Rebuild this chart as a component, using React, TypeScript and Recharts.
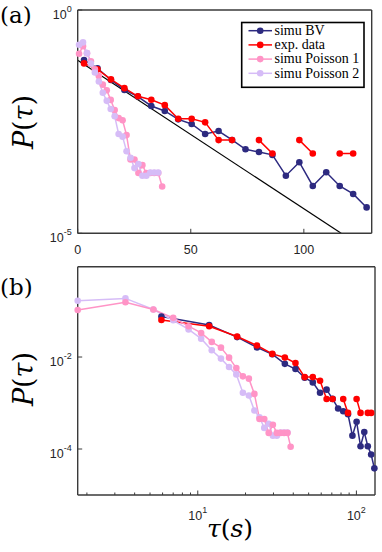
import React from 'react';
import { LineChart, Line, XAxis, YAxis } from 'recharts';

// ---------- data ----------
const seriesNames = ['simu BV', 'exp. data', 'simu Poisson 1', 'simu Poisson 2'];

// panel (a): linear tau; panel (b): log tau
const tauBVLin = [2.8, 8.75, 14.7, 20.65, 26.6, 32.55, 38.5, 44.45, 50.4, 56.35, 62.3, 68.25, 74.2, 80.15, 86.1, 92.05, 98, 103.95, 109.9, 115.85, 121.8, 127.75];
const tauBVLog = [5.9, 11.8, 17.7, 23.6, 29.5, 35.4, 41.3, 47.2, 53.1, 59, 64.9, 70.8, 76.7, 82.6, 88.5, 94.4, 100.3, 106.2, 112.1, 118, 123.9, 129.8];
const pBV = [0.076, 0.0495, 0.0271, 0.0162, 0.0115, 0.0071, 0.00548, 0.00356, 0.00281, 0.00167, 0.00195, 0.00123, 0.00076, 0.00066, 0.00057, 0.000195, 0.00039, 0.000115, 0.000233, 0.000115, 0.000076, 0.000038];
const pExp = [0.0638, 0.0468, 0.0279, 0.0178, 0.0117, 0.00977, 0.00741, 0.00366, 0.00366, 0.00305, 0.00122, 0.00122, null, 0.00122, 0.00061, null, 0.00122, 0.00061, null, 0.00061, 0.00061, null];

const tauPoisLin = [0.6, 2.35, 4.1, 5.85, 7.6, 9.35, 11.1, 12.85, 14.6, 16.35, 18.1, 19.85, 21.6, 23.35, 25.1, 26.85, 28.6, 30.35, 32.1, 33.85, 35.6, 37.35];
const tauPoisLog = [1.75, 3.5, 5.25, 7, 8.75, 10.5, 12.25, 14, 15.75, 17.5, 19.25, 21, 22.75, 24.5, 26.25, 28, 29.75, 31.5, 33.25, 35, 36.75, 38.5];
const pPois1 = [0.105, 0.155, 0.108, 0.0711, 0.0468, 0.0334, 0.0213, 0.016, 0.0097, 0.00575, 0.0038, 0.00339, 0.00158, 0.000448, 0.000448, 0.000224, 0.000336, 0.000224, 0.000224, 0.000224, 0.000224, 0.000112];
const pPois2 = [0.167, 0.188, 0.108, 0.063, 0.0398, 0.0251, 0.014, 0.00923, 0.00605, 0.00419, 0.00167, 0.00146, 0.000686, 0.00049, 0.000288, 0.000355, 0.000195, 0.000195, 0.000229, 0.000229, 0.000229];

const fitTau = [0, 116.5];
const fitP = [0.075, 0.00001];

// ticks
const topXTicks = [0, 50, 100];
const topYTicks = [0.00001, 1];
const botXTicks = [2, 3, 4, 5, 6, 7, 8, 9, 10, 20, 30, 40, 50, 60, 70, 80, 90, 100];
const botXMajor = [10, 100];
const botYTicks = [0.0001, 0.01];

// ---------- styles ----------
const COLORS = ['#2d2a80', '#ff0000', '#ff94c6', '#d6bcf7'];
const AXIS = '#3a3a3a';
const TFONT = '"Liberation Sans", Arial, sans-serif';
const W = 382;
const H = 552;
const YW = 40; // left axis width
const XH = 30; // bottom axis height
const TH = 10; // top axis height
const RW = 5; // right axis width

const rows = (ts: number[], ps: (number | null)[]) => ps.map((p, i) => ({ t: ts[i], p }));

const Sup = ({ v }: { v: number }) => (
  <>
    <tspan>10</tspan>
    <tspan dy={-7} fontSize={9}>{String(Math.round(Math.log10(v)))}</tspan>
  </>
);

const BottomTick = (props: any) => {
  const { x, y, payload, log, majors } = props;
  const v = payload.value;
  const isMajor = !log || majors.includes(v);
  const len = isMajor ? 4.5 : 2.5;
  return (
    <g>
      <line x1={x} x2={x} y1={y} y2={y - len} stroke={AXIS} strokeWidth={1} />
      {isMajor &&
        (log ? (
          <text x={x} y={y + 25} textAnchor="middle" fontSize={12.5} fontFamily={TFONT} fill="#262626">
            <Sup v={v} />
          </text>
        ) : (
          <text x={x} y={y + 20.7} textAnchor="middle" fontSize={12.5} fontFamily={TFONT} fill="#262626">
            {v}
          </text>
        ))}
    </g>
  );
};

const TopTick = (props: any) => {
  const { x, y, payload, log, majors } = props;
  const v = payload.value;
  const isMajor = !log || majors.includes(v);
  const len = isMajor ? 4.5 : 2.5;
  return <line x1={x} x2={x} y1={y} y2={y + len} stroke={AXIS} strokeWidth={1} />;
};

const LeftTick = (props: any) => {
  const { x, y, payload } = props;
  return (
    <g>
      <line x1={x} x2={x + 4.5} y1={y} y2={y} stroke={AXIS} strokeWidth={1} />
      <text x={x - 6} y={y + 9} textAnchor="end" fontSize={12.5} fontFamily={TFONT} fill="#262626">
        <Sup v={payload.value} />
      </text>
    </g>
  );
};

const RightTick = (props: any) => {
  const { x, y } = props;
  return <line x1={x} x2={x - 4.5} y1={y} y2={y} stroke={AXIS} strokeWidth={1} />;
};

const axisLine = { stroke: AXIS, strokeWidth: 1.4 };

const lineProps = (color: string) => ({
  stroke: color,
  strokeWidth: 1.5,
  dot: { r: 3.3, fill: color, stroke: color, strokeWidth: 0 },
  isAnimationActive: false,
  connectNulls: false,
  type: 'linear' as const,
  dataKey: 'p',
  activeDot: false as const,
});

const margins = (top: number, left: number, right: number, bottom: number) => ({
  top: top - TH,
  left: left - YW,
  right: W - right - RW,
  bottom: H - bottom - XH,
});

const TopPanel = () => (
  <LineChart width={W} height={H} margin={margins(10, 77.7, 371.7, 233.3)} style={{ position: 'absolute', left: 0, top: 0 }}>
    <XAxis dataKey="t" type="number" domain={[0, 130]} ticks={topXTicks} interval={0} height={XH} tickSize={0} tickMargin={0}
      axisLine={axisLine} tickLine={false} tick={(p: any) => <BottomTick {...p} log={false} />} />
    <XAxis xAxisId="top" orientation="top" dataKey="t" type="number" domain={[0, 130]} ticks={topXTicks} interval={0} height={TH} tickSize={0} tickMargin={0}
      axisLine={axisLine} tickLine={false} tick={(p: any) => <TopTick {...p} log={false} />} />
    <YAxis type="number" scale="log" domain={[0.00001, 1]} ticks={topYTicks} interval={0} width={YW} tickSize={0} tickMargin={0}
      axisLine={axisLine} tickLine={false} tick={(p: any) => <LeftTick {...p} />} />
    <YAxis yAxisId="right" orientation="right" type="number" scale="log" domain={[0.00001, 1]} ticks={topYTicks} interval={0} width={RW} tickSize={0} tickMargin={0}
      axisLine={axisLine} tickLine={false} tick={(p: any) => <RightTick {...p} />} />
    <Line data={rows(fitTau, fitP)} {...lineProps('#000000')} strokeWidth={1.2} dot={false} />
    <Line data={rows(tauBVLin, pBV)} {...lineProps(COLORS[0])} />
    <Line data={rows(tauBVLin, pExp)} {...lineProps(COLORS[1])} />
    <Line data={rows(tauPoisLin, pPois1)} {...lineProps(COLORS[2])} />
    <Line data={rows(tauPoisLin, pPois2)} {...lineProps(COLORS[3])} />
  </LineChart>
);

const BottomPanel = () => (
  <LineChart width={W} height={H} margin={margins(266.7, 77.7, 375, 495)} style={{ position: 'absolute', left: 0, top: 0 }}>
    <XAxis dataKey="t" type="number" scale="log" domain={[1.75, 131]} ticks={botXTicks} interval={0} height={XH} tickSize={0} tickMargin={0}
      axisLine={axisLine} tickLine={false} tick={(p: any) => <BottomTick {...p} log majors={botXMajor} />} />
    <XAxis xAxisId="top" orientation="top" dataKey="t" type="number" scale="log" domain={[1.75, 131]} ticks={botXTicks} interval={0} height={TH} tickSize={0} tickMargin={0}
      axisLine={axisLine} tickLine={false} tick={(p: any) => <TopTick {...p} log majors={botXMajor} />} />
    <YAxis type="number" scale="log" domain={[0.00001, 0.92]} ticks={botYTicks} interval={0} width={YW} tickSize={0} tickMargin={0}
      axisLine={axisLine} tickLine={false} tick={(p: any) => <LeftTick {...p} />} />
    <YAxis yAxisId="right" orientation="right" type="number" scale="log" domain={[0.00001, 0.92]} ticks={botYTicks} interval={0} width={RW} tickSize={0} tickMargin={0}
      axisLine={axisLine} tickLine={false} tick={(p: any) => <RightTick {...p} />} />
    <Line data={rows(tauBVLog, pBV)} {...lineProps(COLORS[0])} />
    <Line data={rows(tauBVLog, pExp)} {...lineProps(COLORS[1])} />
    <Line data={rows(tauPoisLog, pPois2)} {...lineProps(COLORS[3])} />
    <Line data={rows(tauPoisLog, pPois1)} {...lineProps(COLORS[2])} />
  </LineChart>
);

const SERIF = '"DejaVu Serif", serif';

const PLabel = ({ cx, cy }: { cx: number; cy: number }) => (
  <text transform={`translate(${cx},${cy}) rotate(-90)`} textAnchor="middle" fontSize={27} fontFamily={SERIF} fill="#000">
    <tspan fontStyle="italic">P</tspan>
    <tspan>(</tspan>
    <tspan fontStyle="italic">τ</tspan>
    <tspan>)</tspan>
  </text>
);

const Overlay = () => (
  <svg width={W} height={H} style={{ position: 'absolute', left: 0, top: 0, pointerEvents: 'none' }}>
    <text x={0} y={23} fontSize={23} fontFamily={SERIF} fill="#000">(a)</text>
    <text x={0} y={295} fontSize={23} fontFamily={SERIF} fill="#000">(b)</text>
    <PLabel cx={33} cy={122} />
    <PLabel cx={33} cy={379} />
    <text x={230} y={537} textAnchor="middle" fontSize={25} fontFamily={SERIF} fill="#000">
      <tspan fontStyle="italic">τ</tspan>
      <tspan>(</tspan>
      <tspan fontStyle="italic">s</tspan>
      <tspan>)</tspan>
    </text>
    <g>
      <rect x={241.7} y={22.5} width={122.3} height={64.8} fill="#fff" stroke="#000" strokeWidth={1.6} />
      {seriesNames.map((name, i) => {
        const y = 30.7 + i * 14.2;
        return (
          <g key={name}>
            <line x1={248.5} x2={272} y1={y} y2={y} stroke={COLORS[i]} strokeWidth={1.5} />
            <circle cx={260.2} cy={y} r={3.3} fill={COLORS[i]} />
            <text x={274.5} y={y + 4.3} fontSize={14} fontFamily='"Liberation Serif", serif' fill="#000">{name}</text>
          </g>
        );
      })}
    </g>
  </svg>
);

export default function App() {
  return (
    <div style={{ position: 'absolute', left: 0, top: 0, width: W, height: H, background: '#fff' }}>
      <TopPanel />
      <BottomPanel />
      <Overlay />
    </div>
  );
}
